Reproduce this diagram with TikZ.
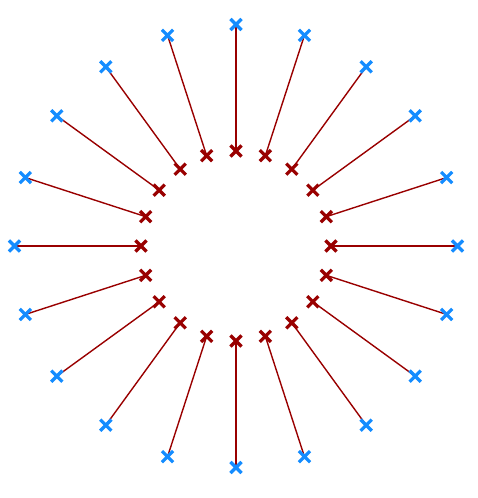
\documentclass[tikz,border=0pt]{standalone}
\usetikzlibrary{shapes.misc,calc}
\definecolor{raydark}{RGB}{153,0,0}
\definecolor{tipblue}{RGB}{20,140,255}
\begin{document}
\begin{tikzpicture}[x=1pt,y=1pt,
xmark/.style={cross out,draw,inner sep=0pt,minimum size=8pt,line width=3.2pt},
ray/.style={raydark,line width=1.4pt}]
\useasboundingbox (0,0) rectangle (477,498);
\coordinate (c) at (236,252);
% rays
\foreach \i in {0,...,19} {
  \coordinate (in\i) at ($(c)+(90+18*\i:95)$);
  \coordinate (out\i) at ($(c)+(90+18*\i:221.5)$);
  \draw[ray] (in\i) -- (out\i);
}
% end marks
\foreach \i in {0,...,19} {
  \node[xmark,raydark] (r\i) at (in\i) {};
  \node[xmark,tipblue] (b\i) at (out\i) {};
}
\end{tikzpicture}
\end{document}
